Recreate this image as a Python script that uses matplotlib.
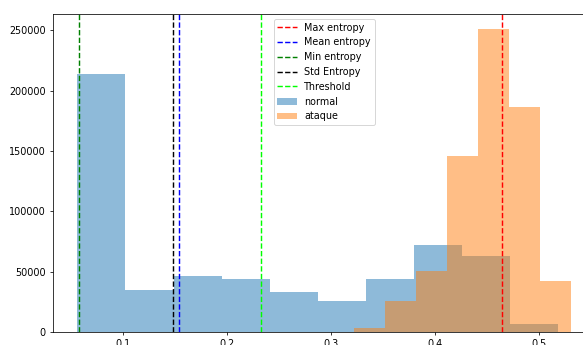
import numpy as np
import matplotlib
matplotlib.use('Agg')
import matplotlib.pyplot as plt

# entropy histograms (counts per bin)
normal_edges = np.linspace(0.0564, 0.5183, 11)
normal_counts = [214000, 35200, 47000, 43800, 33300, 26100, 43800, 72000, 63200, 7200]

ataque_edges = np.linspace(0.3225, 0.5308, 8)
ataque_counts = [3400, 26200, 50500, 145800, 250900, 186600, 42200]

# summary statistics
max_entropy = 0.4648
mean_entropy = 0.1541
min_entropy = 0.0580
std_entropy = 0.1481
threshold = 0.2326

fig = plt.figure(figsize=(583 / 69, 345 / 69), dpi=69)
ax = fig.add_axes([0.0904, 0.0368, 0.9314, 0.9226])

ax.axvline(max_entropy, color='r', linestyle='--', label='Max entropy')
ax.axvline(mean_entropy, color='b', linestyle='--', label='Mean entropy')
ax.axvline(min_entropy, color='g', linestyle='--', label='Min entropy')
ax.axvline(std_entropy, color='k', linestyle='--', label='Std Entropy')
ax.axvline(threshold, color='lime', linestyle='--', label='Threshold')

ax.hist(normal_edges[:-1], bins=normal_edges, weights=normal_counts,
        alpha=0.5, label='normal')
ax.hist(ataque_edges[:-1], bins=ataque_edges, weights=ataque_counts,
        alpha=0.5, label='ataque')

ax.legend(loc='upper center')
fig.savefig('out.png', dpi=69)
